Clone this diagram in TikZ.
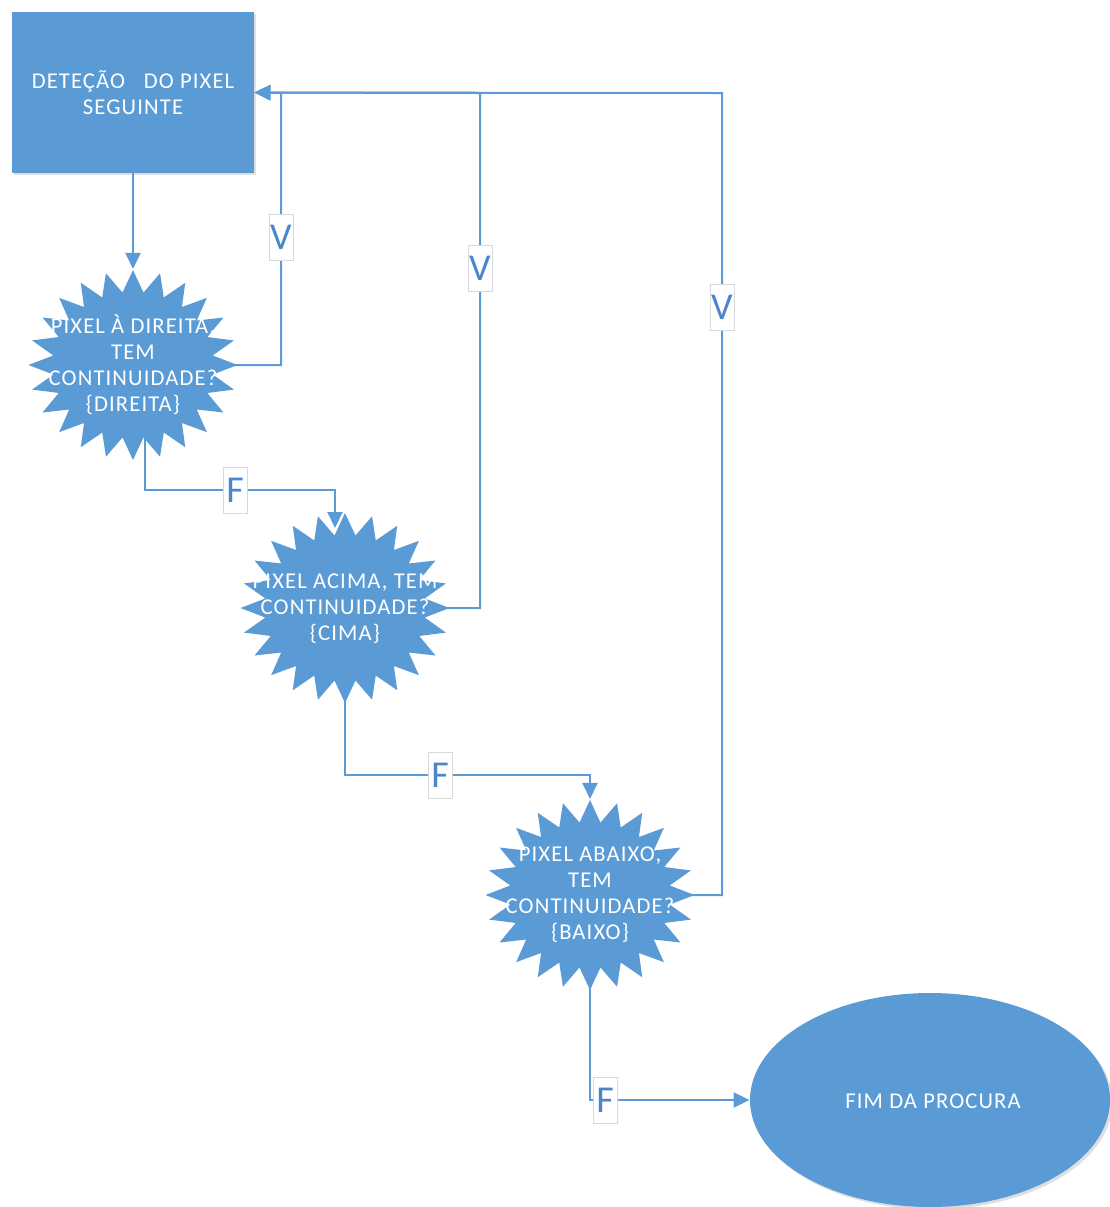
\documentclass[tikz,border=0pt]{standalone}
\usepackage{fontspec}
\setmainfont{Carlito}
\usetikzlibrary{shapes.geometric,arrows.meta,shadows}
\pgfdeclarelayer{background}
\pgfsetlayers{background,main}
\definecolor{blu}{HTML}{5B9BD5}
\definecolor{lbl}{HTML}{4A86CC}
\begin{document}
\begin{tikzpicture}[x=0.5pt,y=-0.5pt,
  conn/.style={draw=blu, line width=1pt},
  arr/.style={conn, -{Triangle[length=8pt,width=7.5pt]}},
  lab/.style={fill=white, draw=black!15, line width=0.4pt, text=lbl,
    font=\fontsize{19}{19}\selectfont, inner sep=0pt, minimum width=12pt, minimum height=23pt},
  txt/.style={text=white, align=center, font=\fontsize{11.3}{13}\selectfont\addfontfeature{LetterSpace=5}},
  starbox/.style={star, star points=24, star point ratio=1.3, minimum size=95pt,
    fill=blu, draw=none, inner sep=0pt, transform shape},
  shade/.style={drop shadow={opacity=0.25, shadow xshift=1.2pt, shadow yshift=-1.2pt}}]
\useasboundingbox (0,0) rectangle (1110,1207);

% process box
\node[rectangle, fill=blu, minimum width=121pt, minimum height=80.5pt, inner sep=0pt, shade] (r) at (133,92.5) {};
\node[txt] (rt) at (133,93) {DETEÇÃO\ \ \ DO PIXEL\\SEGUINTE};

% stars
\begin{scope}[shift={(133,365)}, xscale=1.1]
  \node[starbox] (s1) at (0,0) {};
\end{scope}
\begin{scope}[shift={(345,608)}, xscale=1.1]
  \node[starbox] (s2) at (0,0) {};
\end{scope}
\begin{scope}[shift={(590,895)}, xscale=1.1]
  \node[starbox] (s3) at (0,0) {};
\end{scope}
\node[txt] (t1) at (133,365) {PIXEL À DIREITA,\\TEM\\CONTINUIDADE?\\\{DIREITA\}};
\node[txt] (t2) at (345,609) {PIXEL ACIMA, TEM\\CONTINUIDADE?\\\{CIMA\}};
\node[txt] (t3) at (590,895) {PIXEL ABAIXO,\\TEM\\CONTINUIDADE?\\\{BAIXO\}};

% end ellipse
\node[ellipse, fill=blu, minimum width=180pt, minimum height=107pt, inner sep=0pt, shade] (e) at (930,1100) {};
\node[txt] (et) at (933,1101) {FIM DA PROCURA};

% junction points
\coordinate (j1) at (281,93);
\coordinate (j2) at (480,93);
\coordinate (j3) at (722,93);
\coordinate (f1) at (145,490);
\coordinate (f1e) at (335,528);
\coordinate (f2) at (345,775);
\coordinate (f3) at (590,1100);

\begin{pgfonlayer}{background}
  \draw[arr] (r.south) -- (s1.north);
  \draw[arr] (s1.center) -| (j1) -- (r.east);
  \draw[arr] (s2.center) -| (j2) -- (r.east);
  \draw[arr] (s3.center) -| (j3) -- (r.east);
  \draw[arr] (s1.center -| f1) -- (f1) -| (f1e);
  \draw[arr] (s2.center) -- (f2) -| (s3.north);
  \draw[arr] (s3.center) -- (f3) -- (e.west);
\end{pgfonlayer}

% branch labels
\node[lab] (v1) at (281,237) {V};
\node[lab] (v2) at (480,268) {V};
\node[lab] (v3) at (722,307) {V};
\node[lab] (lf1) at (235,490) {F};
\node[lab] (lf2) at (440,775) {F};
\node[lab] (lf3) at (605,1100) {F};
\end{tikzpicture}
\end{document}
